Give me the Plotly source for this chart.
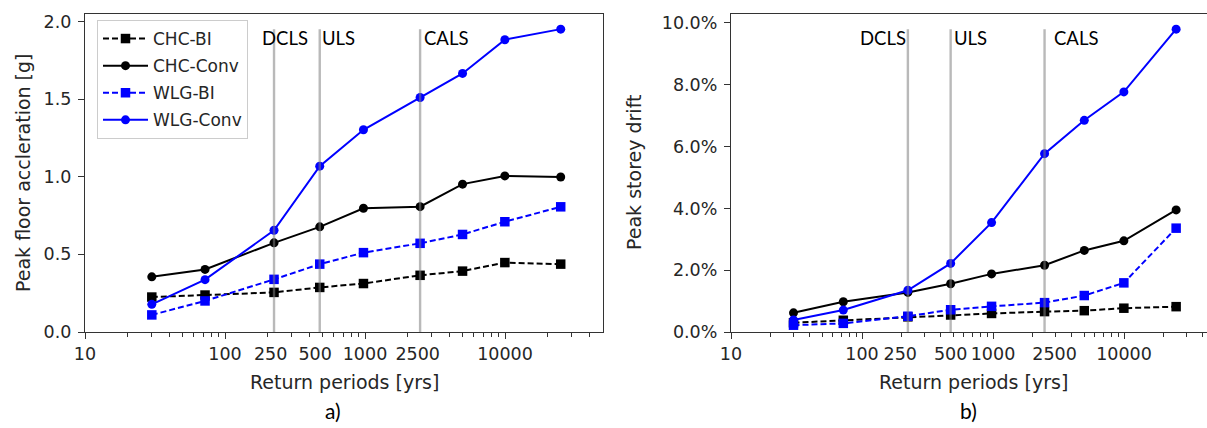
import plotly.graph_objects as go

# ---------------- data ----------------
return_periods = [30, 72, 224, 475, 975, 2475, 4975, 9975, 25000]

# panel a) peak floor acceleration [g]
acc_chc_bi = [0.225, 0.238, 0.255, 0.287, 0.312, 0.365, 0.392, 0.447, 0.437]
acc_chc_conv = [0.355, 0.403, 0.574, 0.677, 0.797, 0.807, 0.952, 1.005, 0.998]
acc_wlg_bi = [0.110, 0.200, 0.339, 0.437, 0.511, 0.571, 0.628, 0.710, 0.806]
acc_wlg_conv = [0.178, 0.337, 0.655, 1.068, 1.302, 1.510, 1.665, 1.882, 1.950]

# panel b) peak storey drift [fraction]
drift_chc_bi = [0.0030, 0.0038, 0.0049, 0.0055, 0.0060, 0.0066, 0.0069, 0.0077, 0.0082]
drift_chc_conv = [0.0062, 0.0098, 0.0128, 0.0156, 0.0188, 0.0216, 0.0264, 0.0295, 0.0395]
drift_wlg_bi = [0.0022, 0.0028, 0.0051, 0.0072, 0.0083, 0.0095, 0.0118, 0.0159, 0.0336]
drift_wlg_conv = [0.0039, 0.0071, 0.0135, 0.0222, 0.0354, 0.0577, 0.0685, 0.0777, 0.0980]

series_names = ["CHC-BI", "CHC-Conv", "WLG-BI", "WLG-Conv"]
limit_states = ["DCLS", "ULS", "CALS"]
limit_state_periods = [224, 475, 2475]

major_x_ticks = [10, 100, 1000, 10000]
major_x_text = ["10", "100", "1000", "10000"]
extra_x_text = ["250", "500", "2500"]
extra_x_pos_a = [212, 440, 2380]
extra_x_pos_b = [196, 475, 2950]

acc_y_ticks = [0.0, 0.5, 1.0, 1.5, 2.0]
drift_y_ticks = [0.0, 0.02, 0.04, 0.06, 0.08, 0.10]

# ---------------- styling ----------------
W, H = 1207, 428
FONT = "DejaVu Sans"
TXT = "#262626"
TICK_SIZE = 17.5
TITLE_SIZE = 19
styles = [
    dict(color="black", dash="6px,3px", symbol="square", size=9.5),
    dict(color="black", dash="solid", symbol="circle", size=9),
    dict(color="#0000ff", dash="6px,3px", symbol="square", size=9.5),
    dict(color="#0000ff", dash="solid", symbol="circle", size=9),
]

def px_x(p):
    return p / W

def px_y(p):
    return 1 - p / H

y_dom = [px_y(332), px_y(14)]
xa_dom = [px_x(85), px_x(603)]
xb_dom = [px_x(731), 1.0]
xa_range = [1, 4.7]
xb_range = [1, 1 + (W - 731) / 131.0]

fig = go.Figure()

acc_series = [acc_chc_bi, acc_chc_conv, acc_wlg_bi, acc_wlg_conv]
drift_series = [drift_chc_bi, drift_chc_conv, drift_wlg_bi, drift_wlg_conv]

for name, ys, st in zip(series_names, acc_series, styles):
    fig.add_trace(go.Scatter(
        x=return_periods, y=ys, name=name, mode="lines+markers", legendgroup=name,
        line=dict(color=st["color"], width=2, dash=st["dash"]),
        marker=dict(color=st["color"], symbol=st["symbol"], size=st["size"]),
        xaxis="x", yaxis="y", showlegend=True))

for name, ys, st in zip(series_names, drift_series, styles):
    fig.add_trace(go.Scatter(
        x=return_periods, y=ys, name=name, mode="lines+markers", legendgroup=name,
        line=dict(color=st["color"], width=2, dash=st["dash"]),
        marker=dict(color=st["color"], symbol=st["symbol"], size=st["size"]),
        xaxis="x2", yaxis="y2", showlegend=False))

acc_max = max(max(s) for s in acc_series)
drift_max = max(max(s) for s in drift_series)
for T in limit_state_periods:
    fig.add_trace(go.Scatter(x=[T, T], y=[0, acc_max], mode="lines",
                             line=dict(color="rgba(128,128,128,0.55)", width=2.4),
                             xaxis="x", yaxis="y", showlegend=False, hoverinfo="skip"))
    fig.add_trace(go.Scatter(x=[T, T], y=[0, drift_max], mode="lines",
                             line=dict(color="rgba(128,128,128,0.55)", width=2.4),
                             xaxis="x2", yaxis="y2", showlegend=False, hoverinfo="skip"))

minor_vals = [m * 10 ** e for e in range(1, 5) for m in range(2, 10) if m * 10 ** e < 50000]

axis_common = dict(showgrid=False, zeroline=False, showline=True, linecolor="#333333",
                   linewidth=1.3, ticks="outside", tickcolor="#333333", tickwidth=1.3,
                   automargin=False,
                   tickfont=dict(family=FONT, size=TICK_SIZE, color=TXT))

xcommon = dict(axis_common, type="log", tickmode="array", tickvals=major_x_ticks,
               ticktext=major_x_text, ticklen=6,
               minor=dict(tickmode="array", tickvals=minor_vals, ticks="outside",
                          ticklen=3.5, tickcolor="#333333", tickwidth=1))

extra_common = dict(type="log", side="bottom", showgrid=False, zeroline=False, showline=False,
                    automargin=False, tickmode="array", ticktext=extra_x_text,
                    ticks="outside", ticklen=6, tickcolor="rgba(0,0,0,0)",
                    tickfont=dict(family=FONT, size=TICK_SIZE, color=TXT))

fig.update_layout(
    template="none",
    width=W, height=H, margin=dict(l=0, r=0, t=0, b=0, pad=0, autoexpand=False),
    paper_bgcolor="white", plot_bgcolor="white",
    xaxis=dict(xcommon, domain=xa_dom, range=xa_range, anchor="y", mirror=True),
    yaxis=dict(axis_common, domain=y_dom, range=[0, acc_max * 1.05], anchor="x",
               tickvals=acc_y_ticks, tickformat=".1f", ticklen=6, mirror=True,
               ticklabelstandoff=3),
    xaxis2=dict(xcommon, domain=xb_dom, range=xb_range, anchor="y2", mirror=True),
    yaxis2=dict(axis_common, domain=y_dom, range=[0, drift_max * 1.05], anchor="x2",
                tickvals=drift_y_ticks, tickformat=".1%", ticklen=6, mirror=False,
                ticklabelstandoff=3),
    xaxis3=dict(extra_common, domain=xa_dom, range=xa_range, anchor="y", overlaying="x",
                tickvals=extra_x_pos_a),
    xaxis4=dict(extra_common, domain=xb_dom, range=xb_range, anchor="y2", overlaying="x2",
                tickvals=extra_x_pos_b),
    legend=dict(x=px_x(97), y=px_y(20), xanchor="left", yanchor="top",
                bgcolor="white", bordercolor="#cccccc", borderwidth=1,
                tracegroupgap=2, itemwidth=45,
                font=dict(family=FONT, size=17, color=TXT)),
    showlegend=True,
)

# invisible traces to activate overlay axes
fig.add_trace(go.Scatter(x=[return_periods[0]], y=[0], xaxis="x3", yaxis="y",
                         mode="markers", marker=dict(opacity=0), showlegend=False, hoverinfo="skip"))
fig.add_trace(go.Scatter(x=[return_periods[0]], y=[0], xaxis="x4", yaxis="y2",
                         mode="markers", marker=dict(opacity=0), showlegend=False, hoverinfo="skip"))

ann = []
ann.append(dict(x=px_x(344), y=px_y(382), xref="paper", yref="paper", text="Return periods [yrs]",
                xanchor="center", yanchor="middle", showarrow=False,
                font=dict(family=FONT, size=TITLE_SIZE, color=TXT)))
ann.append(dict(x=px_x(973), y=px_y(382), xref="paper", yref="paper", text="Return periods [yrs]",
                xanchor="center", yanchor="middle", showarrow=False,
                font=dict(family=FONT, size=TITLE_SIZE, color=TXT)))
ann.append(dict(x=px_x(23), y=px_y(173), xref="paper", yref="paper", text="Peak floor accleration [g]",
                xanchor="center", yanchor="middle", showarrow=False, textangle=-90,
                font=dict(family=FONT, size=TITLE_SIZE, color=TXT)))
ann.append(dict(x=px_x(634), y=px_y(173), xref="paper", yref="paper", text="Peak storey drift",
                xanchor="center", yanchor="middle", showarrow=False, textangle=-90,
                font=dict(family=FONT, size=TITLE_SIZE, color=TXT)))
ann.append(dict(x=px_x(333), y=px_y(410), xref="paper", yref="paper", text="a)",
                xanchor="center", yanchor="middle", showarrow=False,
                font=dict(family="Lato", size=21, color="black")))
ann.append(dict(x=px_x(968), y=px_y(410), xref="paper", yref="paper", text="b)",
                xanchor="center", yanchor="middle", showarrow=False,
                font=dict(family="Lato", size=21, color="black")))
ls_left_a = [260, 320, 422]
ls_left_b = [858, 952, 1052]
for name, xa, xb in zip(limit_states, ls_left_a, ls_left_b):
    ann.append(dict(x=px_x(xa), y=px_y(38), xref="paper", yref="paper", text=name,
                    xanchor="left", yanchor="middle", showarrow=False,
                    font=dict(family="Lato", size=18.5, color="black")))
    ann.append(dict(x=px_x(xb), y=px_y(38), xref="paper", yref="paper", text=name,
                    xanchor="left", yanchor="middle", showarrow=False,
                    font=dict(family="Lato", size=18.5, color="black")))
fig.update_layout(annotations=ann)

fig.write_html("out.html")
